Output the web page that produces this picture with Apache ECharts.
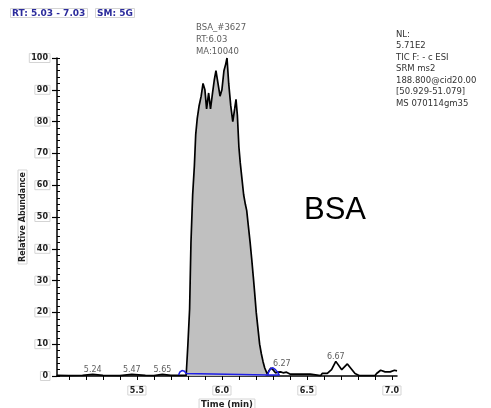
<!DOCTYPE html>
<html>
<head>
<meta charset="utf-8">
<script src="https://cdn.jsdelivr.net/npm/echarts@6/dist/echarts.min.js"></script>
<style>
  html, body { margin: 0; padding: 0; background: #fff; }
  #chart { width: 491px; height: 408px; }
</style>
</head>
<body>
<div id="chart"></div>
<script>
// Chromatogram trace: retention time (min) and relative abundance (%)
const times = [
  5.03, 5.10, 5.18, 5.24, 5.30, 5.40, 5.47, 5.55, 5.60, 5.65, 5.70, 5.75, 5.79,
  5.795, 5.800, 5.810, 5.818, 5.828, 5.838, 5.846, 5.855, 5.866, 5.878, 5.889,
  5.900, 5.910, 5.922, 5.933, 5.945, 5.955, 5.965, 5.977, 5.989, 6.000, 6.012,
  6.022, 6.030, 6.040, 6.052, 6.064, 6.075, 6.083, 6.091, 6.100, 6.108, 6.118,
  6.128, 6.138, 6.146, 6.156, 6.166, 6.175, 6.185, 6.193, 6.202, 6.212, 6.222,
  6.232, 6.242, 6.252, 6.262, 6.268,
  6.275, 6.288, 6.300, 6.315, 6.330, 6.345, 6.360, 6.370, 6.380, 6.400, 6.450,
  6.520, 6.530, 6.580, 6.590, 6.620, 6.645, 6.670, 6.705, 6.738, 6.783, 6.810,
  6.900, 6.910, 6.934, 6.960, 6.990, 7.015, 7.030
];
const intensity = [
  0.2, 0.1, 0.2, 0.5, 0.2, 0.1, 0.5, 0.2, 0.1, 0.5, 0.2, 0.2, 0.3,
  0.5, 10, 21, 42, 57, 66, 76, 81, 85, 88, 92,
  90, 84, 89, 84, 89, 93, 96, 92, 88, 90, 96,
  98, 100, 92, 85, 80, 84, 87, 82, 72, 67, 62,
  57, 54, 52, 47, 42, 37, 31, 26, 20, 15, 10,
  7, 4.5, 2.5, 1.2, 0.5,
  1.5, 2.5, 2.0, 1.0, 1.2, 1.3, 1.0, 1.6, 1.2, 0.6, 0.6,
  0.6, 0.1, 0.1, 0.8, 0.8, 2.0, 4.6, 2.0, 3.8, 0.8, 0.1,
  0.1, 0.8, 1.8, 1.3, 1.3, 1.8, 1.6
];

// Integrated peak window (shaded)
const peakStart = 5.795;
const peakEnd = 6.268;

// Integration baseline and boundary marks
const integTimes  = [5.745, 5.752, 5.765, 5.780, 5.790, 5.795, 6.268, 6.275, 6.288, 6.300, 6.315, 6.330, 6.338, 6.268];
const integLevels = [0.3,   1.2,   1.7,   1.5,   0.8,   0.3,   0.3,   1.2,   2.4,   2.6,   2.0,   1.0,   0.3,   0.3];

// Retention times labelled on minor peaks and the level they sit on
const peakLabelTimes  = [5.24, 5.47, 5.65, 6.27, 6.67];
const peakLabelLevels = [0.5, 0.5, 0.5, 2.5, 4.6];

// Main peak annotation
const apexName = 'BSA_#3627';
const apexTime = 6.03;
const apexLevel = 100;
const apexArea = 10040;

// Axis ticks
const xTickLabels = [5.5, 6.0, 6.5, 7.0];
const yTickLabels = [0, 10, 20, 30, 40, 50, 60, 70, 80, 90, 100];

// Scan header text
const headerRange = 'RT: 5.03 - 7.03';
const headerSmooth = 'SM: 5G';
const infoLines = ['NL:', '5.71E2', 'TIC F: - c ESI', 'SRM ms2', '188.800@cid20.00', '[50.929-51.079]', 'MS 070114gm35'];
const analyteName = 'BSA';

// ---- build chart ----
const tracePairs = times.map((t, i) => [t, intensity[i]]);
const fillPairs = tracePairs.filter(p => p[0] >= peakStart && p[0] <= peakEnd);
const integPairs = integTimes.map((t, i) => [t, integLevels[i]]);

const minorTicks = [];
for (let k = 51; k <= 70; k++) minorTicks.push(k / 10);

const labelShift = { '6.27': [14, 0] };
const peakLabelData = peakLabelTimes.map((t, i) => {
  const item = { value: [t, peakLabelLevels[i]] };
  const s = labelShift[t.toFixed(2)];
  if (s) item.label = { offset: s };
  return item;
});

const smallFont = 'DejaVu Sans';
const boxStyle = { borderColor: '#d4d4d4', borderWidth: 1, padding: [1, 2, 0, 2] };

const chart = echarts.init(document.getElementById('chart'), null, { renderer: 'canvas' });
chart.setOption({
  animation: false,
  backgroundColor: '#ffffff',
  title: [
    Object.assign({ text: headerRange, left: 10, top: 8,
      textStyle: { fontFamily: smallFont, fontSize: 9, fontWeight: 'bold', color: '#2b2b9c' } }, boxStyle),
    Object.assign({ text: headerSmooth, left: 95, top: 8,
      textStyle: { fontFamily: smallFont, fontSize: 9, fontWeight: 'bold', color: '#2b2b9c' } }, boxStyle),
    { text: infoLines.join('\n'), left: 396, top: 29, padding: 0,
      textStyle: { fontFamily: smallFont, fontSize: 8.5, fontWeight: 'normal', color: '#333', lineHeight: 11.5 } },
    { text: analyteName, left: 304, top: 195, padding: 0,
      textStyle: { fontFamily: 'Liberation Sans', fontSize: 31, fontWeight: 'normal', color: '#000' } }
  ],
  grid: { left: 57, right: 94, top: 58, bottom: 32, containLabel: false, outerBoundsMode: 'none' },
  xAxis: {
    type: 'value', min: 5.03, max: 7.03,
    name: 'Time (min)', nameLocation: 'middle', nameGap: 23, nameMoveOverlap: false,
    nameTextStyle: Object.assign({ fontFamily: smallFont, fontSize: 8.5, fontWeight: 'bold', color: '#222' }, boxStyle),
    axisLine: { lineStyle: { color: '#000', width: 1.5 } },
    axisTick: { show: true, customValues: minorTicks, length: 4, lineStyle: { color: '#000', width: 1 } },
    axisLabel: Object.assign({ customValues: xTickLabels, formatter: v => v.toFixed(1), margin: 10,
      fontFamily: smallFont, fontSize: 8, fontWeight: 'bold', color: '#222' }, boxStyle),
    splitLine: { show: false }
  },
  yAxis: [
    {
      type: 'value', min: 0, max: 100, interval: 10,
      name: 'Relative Abundance', nameLocation: 'middle', nameGap: 30, nameMoveOverlap: false,
      nameTextStyle: Object.assign({ fontFamily: smallFont, fontSize: 8, fontWeight: 'bold', color: '#222' }, boxStyle),
      axisLine: { show: true, lineStyle: { color: '#000', width: 1.5 } },
      axisTick: { show: true, length: 5, lineStyle: { color: '#000', width: 1.2 } },
      axisLabel: Object.assign({ customValues: yTickLabels, margin: 7,
        fontFamily: smallFont, fontSize: 8, fontWeight: 'bold', color: '#222' }, boxStyle),
      splitLine: { show: false }
    },
    {
      type: 'value', min: 0, max: 100, interval: 2, position: 'left',
      axisLine: { show: false },
      axisTick: { show: true, inside: true, length: 3, lineStyle: { color: '#000', width: 1 } },
      axisLabel: { show: false },
      splitLine: { show: false }
    }
  ],
  series: [
    {
      name: 'peak area', type: 'line', data: fillPairs, symbol: 'none', z: 1,
      lineStyle: { width: 0 }, areaStyle: { color: '#c0c0c0', opacity: 1 }
    },
    {
      name: 'trace', type: 'line', data: tracePairs, symbol: 'none', z: 3,
      lineStyle: { color: '#000', width: 1.7 }
    },
    {
      name: 'integration', type: 'line', data: integPairs, symbol: 'none', z: 4,
      lineStyle: { color: '#1f1fe6', width: 1.5 }
    },
    {
      name: 'peak labels', type: 'scatter', data: peakLabelData, symbolSize: 0, z: 5,
      label: { show: true, position: 'top', distance: 0,
        formatter: p => p.value[0].toFixed(2),
        fontFamily: smallFont, fontSize: 8, color: '#333' }
    },
    {
      name: 'apex', type: 'scatter', data: [[apexTime, apexLevel]], symbolSize: 0, z: 5,
      label: { show: true, position: 'top', distance: 0, align: 'left', offset: [-31, 0],
        lineHeight: 12,
        formatter: p => [apexName, 'RT:' + p.value[0].toFixed(2), 'MA:' + apexArea].join('\n'),
        fontFamily: smallFont, fontSize: 8.5, color: '#333' }
    }
  ]
});
</script>
</body>
</html>
